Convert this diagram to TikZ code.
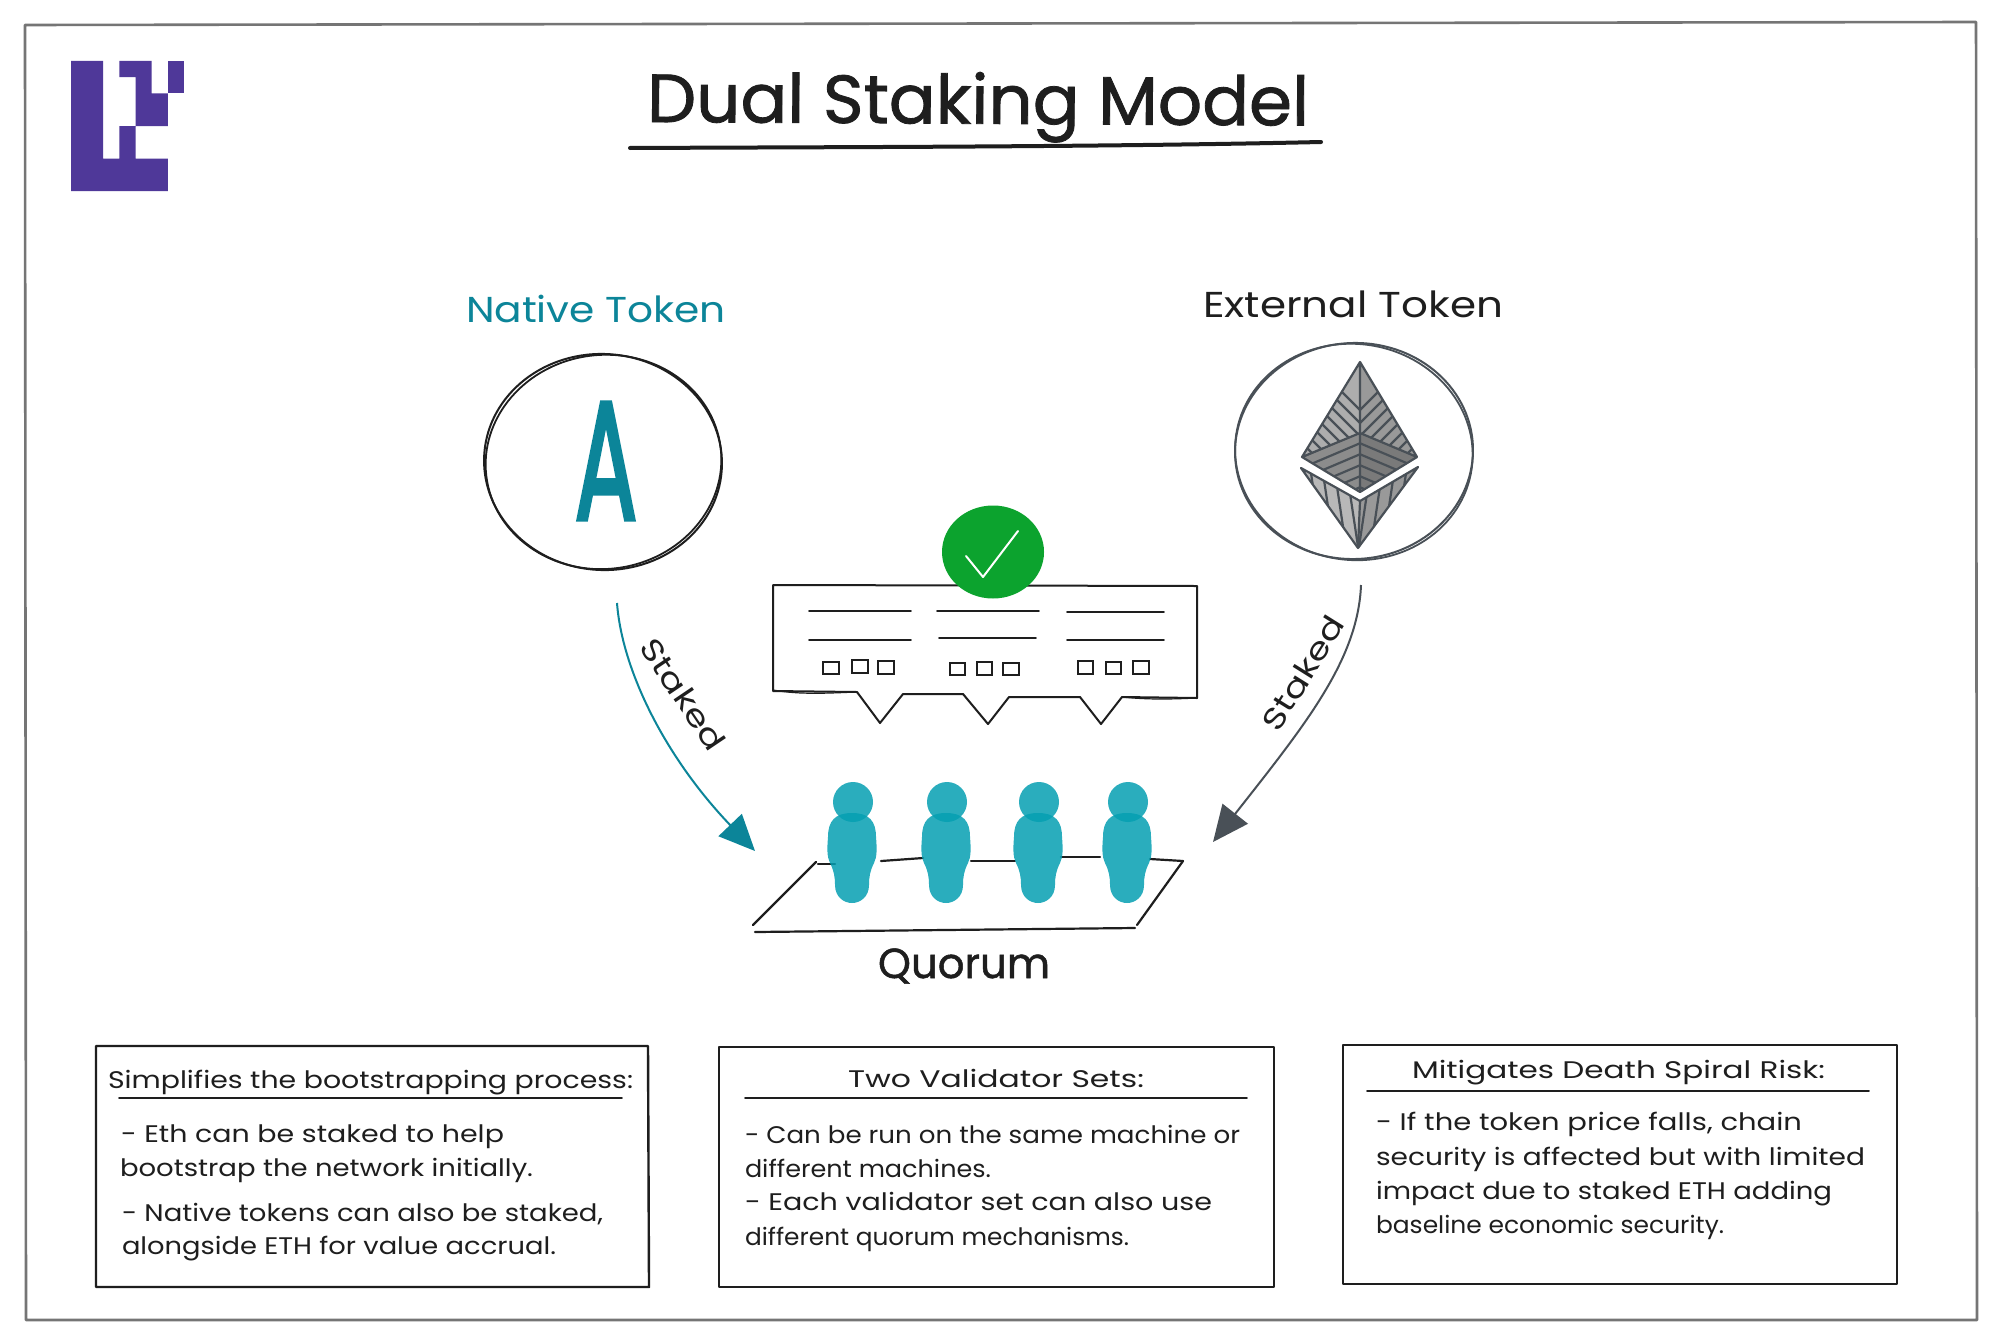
\documentclass[tikz,border=0pt]{standalone}
\usepackage{fontspec}
\usepackage{graphicx}
\usetikzlibrary{arrows.meta,shapes.geometric}
\setmainfont{Poppins}
\newfontfamily\heavyfont[FakeBold=1.2]{Poppins}
\newfontfamily\letterfont[FakeBold=3]{Poppins}
\definecolor{ink}{HTML}{1E1E1E}
\definecolor{tealink}{HTML}{0C8599}
\definecolor{slate}{HTML}{495057}
\definecolor{logopurple}{HTML}{4F3899}
\definecolor{okgreen}{HTML}{0CA32E}
\definecolor{personfill}{RGB}{5,159,178}
\definecolor{framegray}{HTML}{757575}
\tikzset{
  txt/.style={inner sep=0pt,outer sep=0pt,anchor=base west,text=ink,font=\fontsize{12}{14}\selectfont},
  sketch/.style={draw=ink,line width=1.1pt,line cap=round,line join=round},
  thinline/.style={draw=ink,line width=.9pt,line cap=round,line join=round},
  boxline/.style={draw=ink,line width=1.2pt,line join=round},
  hatch/.style={draw=slate,line width=1.1pt},
  token/.style={ellipse,inner sep=0pt,outer sep=0pt,minimum width=119pt,minimum height=108pt},
  squarelet/.style={draw=ink,line width=1pt},
}
% name, x (left, px), baseline y (px), width (px), text
\newcommand{\tl}[5]{\node[txt] (#1) at (#2,#3) {\resizebox{\dimexpr #4pt/2\relax}{\height}{#5}};}
\newcommand{\personfig}[1]{%
  \begin{scope}[shift={(#1,813)}]
    \fill[personfill,fill opacity=.85] (0,0) .. controls (17,0) and (24,8) .. (24,24)
      .. controls (25,36) and (25,44) .. (22,50) .. controls (18,58) and (17,64) .. (17,72)
      .. controls (17,84) and (8,90) .. (0,90) .. controls (-8,90) and (-17,84) .. (-17,72)
      .. controls (-17,64) and (-18,58) .. (-22,50) .. controls (-25,44) and (-25,36) .. (-24,24)
      .. controls (-24,8) and (-17,0) .. (0,0) -- cycle;
    \fill[personfill,fill opacity=.85] (1,-11) circle[radius=10pt];
  \end{scope}}
\begin{document}
\begin{tikzpicture}[x=.5pt,y=-.5pt]
\useasboundingbox (0,0) rectangle (2000,1343);
\fill[white] (0,0) rectangle (2000,1343);
% frame
\draw[draw=framegray,line width=1.3pt,line join=round] (25,25) -- (1976,22) -- (1977,1320) -- (26,1320) -- cycle;
% logo
\fill[logopurple] (71,61) -- (103,61) -- (103,158.5) -- (119.4,158.5) -- (119.4,126) -- (135.5,126) -- (135.5,93.5)
  -- (135.5,77.25) -- (119.4,77.25) -- (119.4,61) -- (151.6,61) -- (151.6,93.5) -- (167.8,93.5) -- (167.8,126)
  -- (135.5,126) -- (135.5,158.5) -- (167.8,158.5) -- (167.8,191) -- (71,191) -- cycle;
\fill[logopurple] (167.8,61) rectangle (184,93.5);
% title
\node[txt,font=\heavyfont\fontsize{34}{40}\selectfont,rotate=-.3] (title) at (647,122) {\resizebox{331pt}{\height}{Dual Staking Model}};
\coordinate (ulA) at (630,148);
\coordinate (ulB) at (1321,142);
\draw[draw=ink,line width=2pt,line cap=round] (ulA) .. controls (850,147) and (1100,147) .. (ulB);
% token labels
\node[txt,font=\fontsize{18}{22}\selectfont,text=tealink] (nativelabel) at (466,322) {\resizebox{130pt}{\height}{Native Token}};
\node[txt,font=\fontsize{18}{22}\selectfont] (externallabel) at (1203,317) {\resizebox{150pt}{\height}{External Token}};
% native token
\node[token,draw=ink,line width=1pt,rotate=-4] (native) at (603,462) {};
\draw[draw=ink,line width=.9pt,rotate around={7:(603,462)}] (603.5,462) ellipse [x radius=59pt,y radius=53.5pt];
\node[inner sep=0pt,text=tealink,font=\letterfont\fontsize{84}{90}\selectfont] (letterA) at (606,461) {\scalebox{.55}[1]{A}};
% external token
\node[token,draw=slate,line width=1pt,rotate=3] (external) at (1354,451) {};
\draw[draw=slate,line width=.9pt,rotate around={-8:(1354,451)}] (1354,452) ellipse [x radius=59.5pt,y radius=54pt];
% ethereum mark
\coordinate (et) at (1360,362);
\coordinate (el) at (1302,457);
\coordinate (er) at (1417,457);
\coordinate (ec) at (1360,433);
\coordinate (eb) at (1360,492);
\coordinate (ll) at (1301,468);
\coordinate (lr) at (1418,467);
\coordinate (ln) at (1360,501);
\coordinate (lb) at (1358,548);
\begin{scope}
  \clip (et) -- (el) -- (ec) -- cycle;
  \fill[black!32] (1290,350) rectangle (1430,560);
  \foreach \o in {0,13,...,130} \draw[hatch] (1290,340+\o) -- (1370,420+\o);
\end{scope}
\begin{scope}
  \clip (et) -- (er) -- (ec) -- cycle;
  \fill[black!40] (1290,350) rectangle (1430,560);
  \foreach \o in {0,13,...,130} \draw[hatch] (1430,340+\o) -- (1350,420+\o);
\end{scope}
\begin{scope}
  \clip (el) -- (ec) -- (eb) -- cycle;
  \fill[black!45] (1290,350) rectangle (1430,560);
  \foreach \o in {0,11,...,88} \draw[hatch] (1290,462+\o) -- (1370,428+\o);
\end{scope}
\begin{scope}
  \clip (er) -- (ec) -- (eb) -- cycle;
  \fill[black!52] (1290,350) rectangle (1430,560);
  \foreach \o in {0,11,...,88} \draw[hatch] (1430,462+\o) -- (1350,428+\o);
\end{scope}
\begin{scope}
  \clip (ll) -- (ln) -- (lb) -- cycle;
  \fill[black!28] (1290,450) rectangle (1430,560);
  \foreach \o in {0,12,...,72} \draw[hatch] (1297+\o,460) -- (1312+\o,560);
\end{scope}
\begin{scope}
  \clip (lr) -- (ln) -- (lb) -- cycle;
  \fill[black!40] (1290,450) rectangle (1430,560);
  \foreach \o in {0,12,...,72} \draw[hatch] (1420-\o,460) -- (1405-\o,560);
\end{scope}
\draw[hatch,line join=round] (et) -- (el) -- (eb) -- (er) -- cycle (el) -- (ec) -- (er) (et) -- (eb);
\draw[hatch,line join=round] (ll) -- (ln) -- (lr) -- (lb) -- cycle (ln) -- (lb);
% speech panel
\draw[sketch,line width=1pt] (773,585) -- (1197,586) -- (1197,698) -- (1122,697) -- (1101,724) -- (1080,697)
  -- (1009,697) -- (988,724) -- (963,694) -- (903,694) -- (880,723) -- (857,692) -- (773,691) -- cycle;
\draw[sketch,line width=.6pt] (773,690) .. controls (800,695) and (830,693) .. (857,692);
\draw[sketch,line width=.6pt] (1122,697) .. controls (1150,700) and (1175,699) .. (1197,698);
\foreach \a/\b/\c in {809/911/611,809/911/640,937/1039/611,939/1036/638,1067/1164/612,1067/1164/640}
  \draw[thinline] (\a,\c) -- (\b,\c);
\foreach \a/\b/\c/\d in {823/662/839/674,852/660/868/673,878/661/894/674,950/663/965/675,977/662/992/675,1003/663/1019/675,1078/661/1093/674,1106/662/1121/674,1133/661/1149/674}
  \draw[squarelet] (\a,\b) rectangle (\c,\d);
% check badge
\node[ellipse,fill=okgreen,inner sep=0pt,minimum width=51pt,minimum height=46.5pt] (badge) at (993,552) {};
\draw[draw=white,line width=1pt,line cap=round,line join=round] (966,556) -- (983,577) -- (1018,531);
% quorum mat
\draw[sketch] (816,862) -- (753,925);
\draw[sketch] (755,932) -- (1135,928);
\draw[sketch] (1137,925) -- (1183,861);
\draw[sketch] (818,864) -- (835,864);
\draw[sketch] (881,861) -- (923,858);
\draw[sketch] (971,861) -- (1015,861);
\draw[sketch] (1061,857) -- (1100,857);
\draw[sketch] (1150,859) -- (1183,861);
% people
\personfig{852}
\personfig{946}
\personfig{1038}
\personfig{1127}
\node[txt,font=\heavyfont\fontsize{21}{25}\selectfont] (quorum) at (878,978) {\resizebox{86pt}{\height}{Quorum}};
% connectors
\coordinate (nstart) at (617,603);
\coordinate (ntip) at (755,851);
\coordinate (estart) at (1361,585);
\coordinate (etip) at (1213,842);
\draw[draw=tealink,line width=1pt,-{Triangle[length=18pt,width=16pt,fill=tealink]}] (nstart) .. controls (622,670) and (665,757) .. (ntip);
\draw[draw=slate,line width=1pt,-{Triangle[length=18pt,width=16pt,fill=slate]}] (estart) .. controls (1358,660) and (1305,725) .. (etip);
\node[inner sep=0pt,text=ink,font=\fontsize{15}{18}\selectfont,rotate=-56] (stakedL) at (683,694) {\resizebox{64pt}{\height}{Staked}};
\node[inner sep=0pt,text=ink,font=\fontsize{15}{18}\selectfont,rotate=58] (stakedR) at (1303,673) {\resizebox{64pt}{\height}{Staked}};
% box 1
\draw[boxline] (96,1046) -- (648,1046) -- (649,1287) -- (96,1287) -- cycle;
\coordinate (b1a) at (119,1098);
\coordinate (b1b) at (622,1098);
\draw[thinline] (b1a) -- (b1b);
\tl{b1t}{108}{1088}{525}{Simplifies the bootstrapping process:}
\tl{b1l1}{121}{1142}{383}{- Eth can be staked to help}
\tl{b1l2}{120}{1176}{413}{bootstrap the network initially.}
\tl{b1l3}{122}{1221}{481}{- Native tokens can also be staked,}
\tl{b1l4}{122}{1254}{434}{alongside ETH for value accrual.}
% box 2
\draw[boxline] (719,1047) -- (1274,1047) -- (1274,1287) -- (719,1287) -- cycle;
\coordinate (b2a) at (745,1098);
\coordinate (b2b) at (1247,1098);
\draw[thinline] (b2a) -- (b2b);
\tl{b2t}{848}{1087}{296}{Two Validator Sets:}
\tl{b2l1}{745}{1143}{495}{- Can be run on the same machine or}
\tl{b2l2}{745}{1177}{246}{different machines.}
\tl{b2l3}{745}{1210}{467}{- Each validator set can also use}
\tl{b2l4}{745}{1245}{384}{different quorum mechanisms.}
% box 3
\draw[boxline] (1343,1045) -- (1897,1045) -- (1897,1284) -- (1343,1284) -- cycle;
\coordinate (b3a) at (1367,1091);
\coordinate (b3b) at (1869,1091);
\draw[thinline] (b3a) -- (b3b);
\tl{b3t}{1412}{1078}{413}{Mitigates Death Spiral Risk:}
\tl{b3l1}{1376}{1130}{426}{- If the token price falls, chain}
\tl{b3l2}{1376}{1165}{489}{security is affected but with limited}
\tl{b3l3}{1376}{1199}{456}{impact due to staked ETH adding}
\tl{b3l4}{1376}{1233}{348}{baseline economic security.}
\end{tikzpicture}
\end{document}
